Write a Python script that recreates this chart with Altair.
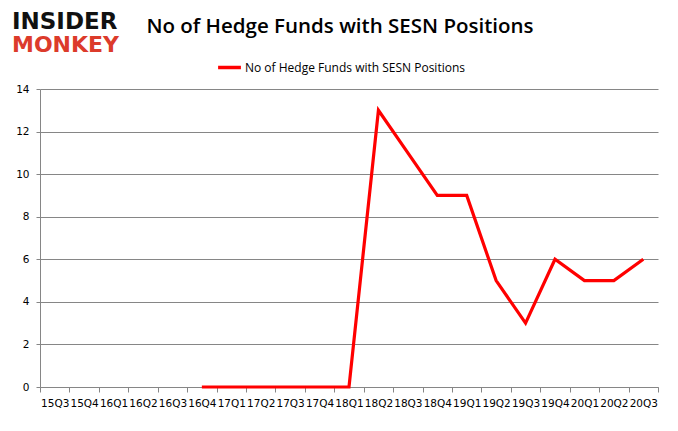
import altair as alt
import pandas as pd

quarters = ["15Q3", "15Q4", "16Q1", "16Q2", "16Q3", "16Q4", "17Q1", "17Q2", "17Q3", "17Q4",
            "18Q1", "18Q2", "18Q3", "18Q4", "19Q1", "19Q2", "19Q3", "19Q4", "20Q1", "20Q2", "20Q3"]
funds = [None, None, None, None, None, 0, 0, 0, 0, 0, 0, 13, 11, 9, 9, 5, 3, 6, 5, 5, 6]
series_name = "No of Hedge Funds with SESN Positions"

df = pd.DataFrame({"quarter": quarters, "funds": funds, "series": series_name})

W, H = 618, 298

line = alt.Chart(df).mark_line(strokeWidth=3.2, color="#ff0000").encode(
    x=alt.X("quarter:N", sort=quarters,
            scale=alt.Scale(type="band", paddingInner=0, paddingOuter=0),
            axis=alt.Axis(title=None, labelAngle=0, tickBand="extent", tickSize=5,
                          tickColor="#868686", domainColor="#868686", labelPadding=6,
                          labelFont="DejaVu Sans", labelFontSize=10.5, labelColor="#000000",
                          grid=False)),
    y=alt.Y("funds:Q", scale=alt.Scale(domain=[0, 14]),
            axis=alt.Axis(title=None, values=[0, 2, 4, 6, 8, 10, 12, 14], tickSize=4,
                          tickColor="#868686", domainColor="#868686", gridColor="#868686",
                          labelPadding=7, labelFont="DejaVu Sans", labelFontSize=10.5,
                          labelColor="#000000")),
    color=alt.Color("series:N", scale=alt.Scale(range=["#ff0000"]),
                    legend=alt.Legend(title=None, orient="none", legendX=176, legendY=-35,
                                      symbolType="stroke", symbolStrokeWidth=3.5,
                                      symbolSize=520, labelOffset=2, labelFont="Open Sans",
                                      labelFontSize=12, labelColor="#000000", labelLimit=400)),
)

title_df = pd.DataFrame({"t": ["No of Hedge Funds with SESN Positions"]})
title = alt.Chart(title_df).mark_text(font="Open Sans", fontSize=20.5, fontWeight=600,
                                      color="#000000", align="center",
                                      baseline="middle").encode(
    text="t:N", x=alt.value(300), y=alt.value(-62))

logo1 = alt.Chart(pd.DataFrame({"t": ["INSIDER"]})).mark_text(
    font="DejaVu Sans", fontWeight="bold", fontSize=23, color="#111111",
    align="left", baseline="alphabetic").encode(text="t:N", x=alt.value(-28), y=alt.value(-60))
logo2 = alt.Chart(pd.DataFrame({"t": ["MONKEY"]})).mark_text(
    font="DejaVu Sans", fontWeight="bold", fontSize=22, color="#dc3b2b",
    align="left", baseline="alphabetic").encode(text="t:N", x=alt.value(-28), y=alt.value(-37))

chart = alt.layer(line, title, logo1, logo2).properties(
    width=W, height=H,
    autosize=alt.AutoSizeParams(type="none"),
    padding={"left": 32, "top": 81, "right": 12, "bottom": 36},
    background="#ffffff",
).configure_view(stroke=None)

chart.save("out.html", embed_options={"renderer": "svg", "actions": False})
